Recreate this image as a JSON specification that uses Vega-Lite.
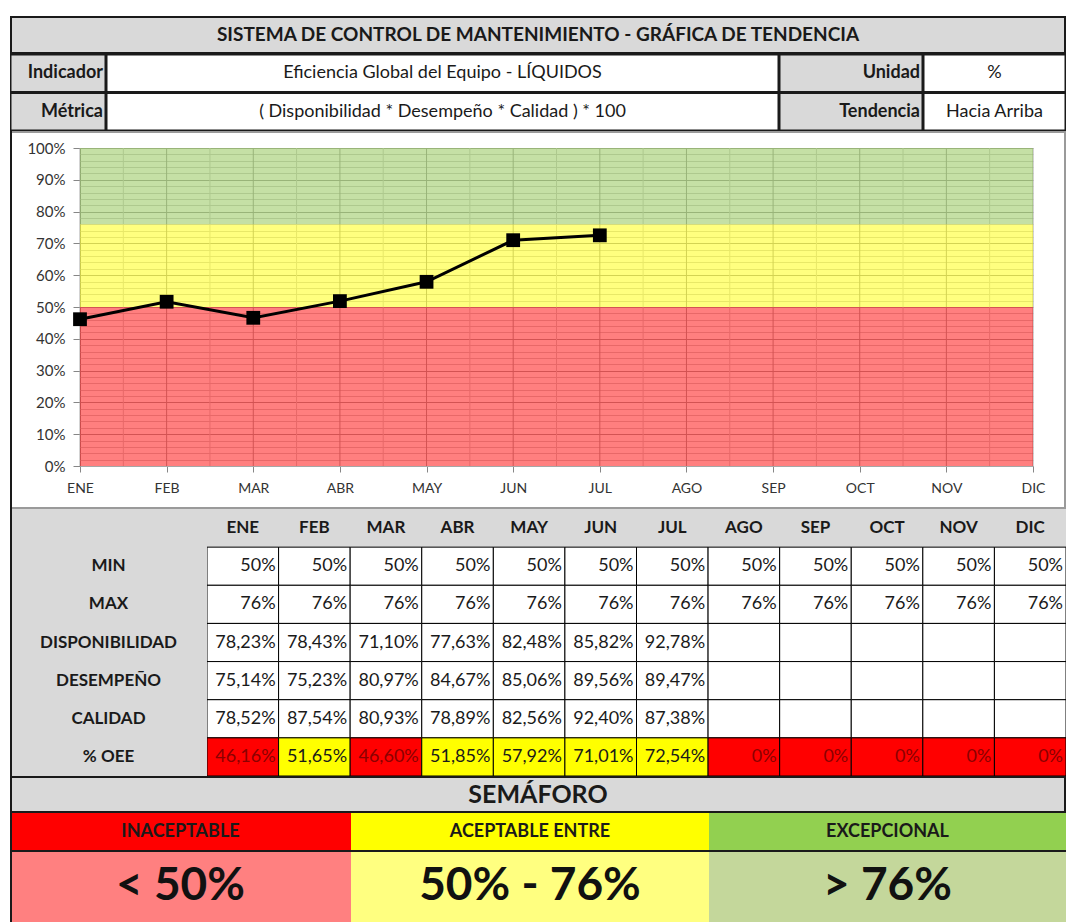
{
  "$schema": "https://vega.github.io/schema/vega-lite/v6.json",
  "padding": {"left": 10, "top": 16, "right": 0, "bottom": 0},
  "background": "white",
  "spacing": 0,
  "config": {
    "view": {"stroke": null},
    "font": "Lato",
    "locale": {"number": {"decimal": ",", "thousands": ".", "grouping": [3], "currency": ["", " €"]}}
  },
  "datasets": {
    "meses": [
      {"mes": "ENE", "min": 0.5, "max": 0.76, "disponibilidad": 0.7823, "desempeno": 0.7514, "calidad": 0.7852, "oee": 0.4616},
      {"mes": "FEB", "min": 0.5, "max": 0.76, "disponibilidad": 0.7843, "desempeno": 0.7523, "calidad": 0.8754, "oee": 0.5165},
      {"mes": "MAR", "min": 0.5, "max": 0.76, "disponibilidad": 0.7110, "desempeno": 0.8097, "calidad": 0.8093, "oee": 0.4660},
      {"mes": "ABR", "min": 0.5, "max": 0.76, "disponibilidad": 0.7763, "desempeno": 0.8467, "calidad": 0.7889, "oee": 0.5185},
      {"mes": "MAY", "min": 0.5, "max": 0.76, "disponibilidad": 0.8248, "desempeno": 0.8506, "calidad": 0.8256, "oee": 0.5792},
      {"mes": "JUN", "min": 0.5, "max": 0.76, "disponibilidad": 0.8582, "desempeno": 0.8956, "calidad": 0.9240, "oee": 0.7101},
      {"mes": "JUL", "min": 0.5, "max": 0.76, "disponibilidad": 0.9278, "desempeno": 0.8947, "calidad": 0.8738, "oee": 0.7254},
      {"mes": "AGO", "min": 0.5, "max": 0.76, "disponibilidad": null, "desempeno": null, "calidad": null, "oee": 0},
      {"mes": "SEP", "min": 0.5, "max": 0.76, "disponibilidad": null, "desempeno": null, "calidad": null, "oee": 0},
      {"mes": "OCT", "min": 0.5, "max": 0.76, "disponibilidad": null, "desempeno": null, "calidad": null, "oee": 0},
      {"mes": "NOV", "min": 0.5, "max": 0.76, "disponibilidad": null, "desempeno": null, "calidad": null, "oee": 0},
      {"mes": "DIC", "min": 0.5, "max": 0.76, "disponibilidad": null, "desempeno": null, "calidad": null, "oee": 0}
    ],
    "filas": [
      {"clave": "min", "fila": "MIN"},
      {"clave": "max", "fila": "MAX"},
      {"clave": "disponibilidad", "fila": "DISPONIBILIDAD"},
      {"clave": "desempeno", "fila": "DESEMPEÑO"},
      {"clave": "calidad", "fila": "CALIDAD"},
      {"clave": "oee", "fila": "% OEE"}
    ],
    "encabezado": [
      {"fila": 1, "etiqueta": "Indicador", "valor": "Eficiencia Global del Equipo - LÍQUIDOS", "etiqueta2": "Unidad", "valor2": "%"},
      {"fila": 2, "etiqueta": "Métrica", "valor": "( Disponibilidad * Desempeño * Calidad ) * 100", "etiqueta2": "Tendencia", "valor2": "Hacia Arriba"}
    ],
    "titulos": [
      {"seccion": "titulo", "texto": "SISTEMA DE CONTROL DE MANTENIMIENTO - GRÁFICA DE TENDENCIA"},
      {"seccion": "semaforo", "texto": "SEMÁFORO"}
    ],
    "semaforo": [
      {"zona": "INACEPTABLE", "rango": "< 50%"},
      {"zona": "ACEPTABLE ENTRE", "rango": "50% - 76%"},
      {"zona": "EXCEPCIONAL", "rango": "> 76%"}
    ]
  },
  "vconcat": [
    {
      "width": 1056, "height": 38,
      "data": {"name": "titulos"},
      "transform": [{"filter": "datum.seccion === 'titulo'"}],
      "layer": [
        {"mark": {"type": "rect", "fill": "#d9d9d9", "stroke": "#1a1a1a", "strokeWidth": 4, "clip": true}, "encoding": {}},
        {"mark": {"type": "text", "fontWeight": "bold", "fontSize": 19, "color": "#1a1a1a"}, "encoding": {"text": {"field": "texto"}}}
      ]
    },
    {
      "hconcat": [
        {
          "width": 96, "height": 77,
          "data": {"name": "encabezado"},
          "encoding": {"y": {"field": "fila", "type": "ordinal", "axis": null, "scale": {"type": "band", "paddingInner": 0, "paddingOuter": 0}}},
          "layer": [
            {"mark": {"type": "rect", "fill": "#d9d9d9", "stroke": "#1a1a1a", "strokeWidth": 3, "clip": true}},
            {"mark": {"type": "text", "align": "right", "dx": -3, "fontWeight": "bold", "fontSize": 18, "color": "#1a1a1a"}, "encoding": {"x": {"value": "width"}, "text": {"field": "etiqueta"}}}
          ]
        },
        {
          "width": 673, "height": 77,
          "data": {"name": "encabezado"},
          "encoding": {"y": {"field": "fila", "type": "ordinal", "axis": null, "scale": {"type": "band", "paddingInner": 0, "paddingOuter": 0}}},
          "layer": [
            {"mark": {"type": "rect", "fill": "white", "stroke": "#1a1a1a", "strokeWidth": 3, "clip": true}},
            {"mark": {"type": "text", "fontSize": 18, "color": "#1a1a1a"}, "encoding": {"text": {"field": "valor"}}}
          ]
        },
        {
          "width": 144, "height": 77,
          "data": {"name": "encabezado"},
          "encoding": {"y": {"field": "fila", "type": "ordinal", "axis": null, "scale": {"type": "band", "paddingInner": 0, "paddingOuter": 0}}},
          "layer": [
            {"mark": {"type": "rect", "fill": "#d9d9d9", "stroke": "#1a1a1a", "strokeWidth": 3, "clip": true}},
            {"mark": {"type": "text", "align": "right", "dx": -3, "fontWeight": "bold", "fontSize": 18, "color": "#1a1a1a"}, "encoding": {"x": {"value": "width"}, "text": {"field": "etiqueta2"}}}
          ]
        },
        {
          "width": 143, "height": 77,
          "data": {"name": "encabezado"},
          "encoding": {"y": {"field": "fila", "type": "ordinal", "axis": null, "scale": {"type": "band", "paddingInner": 0, "paddingOuter": 0}}},
          "layer": [
            {"mark": {"type": "rect", "fill": "white", "stroke": "#1a1a1a", "strokeWidth": 3, "clip": true}},
            {"mark": {"type": "text", "fontSize": 18, "color": "#1a1a1a"}, "encoding": {"text": {"field": "valor2"}}}
          ]
        }
      ],
      "spacing": 0,
      "bounds": "flush"
    },
    {
      "width": 1056, "height": 378,
      "data": {"name": "meses"},
      "view": {"fill": "white"},
      "resolve": {"axis": {"y": "independent"}},
      "encoding": {
        "x": {"field": "mes", "type": "ordinal", "sort": null, "title": null,
          "scale": {"type": "point", "range": [70, 1023], "padding": 0},
          "axis": {"offset": -43, "labelAngle": 0, "domainColor": "#868686", "tickColor": "#868686", "tickSize": 6, "labelFontSize": 14, "labelColor": "#333333", "labelPadding": 9, "grid": false, "labelOverlap": false, "labelFlush": false, "title": null}}
      },
      "layer": [
        {
          "transform": [{"aggregate": [{"op": "count", "as": "n"}]}],
          "mark": {"type": "rect", "filled": false, "stroke": "#9a9a9a", "strokeWidth": 4, "clip": true},
          "encoding": {"x": {"value": 0}, "x2": {"value": "width"}}
        },
        {
          "transform": [{"aggregate": [{"op": "count", "as": "n"}]}],
          "mark": {"type": "rect", "filled": false, "stroke": "#1a1a1a", "strokeWidth": 4, "strokeDash": [0, 2490, 378, 0], "clip": true},
          "encoding": {"x": {"value": 0}, "x2": {"value": "width"}}
        },
        {
          "mark": {"type": "rule", "color": "#a6a6a6", "strokeWidth": 1},
          "encoding": {
            "y": {"datum": 0, "type": "quantitative", "title": null,
              "scale": {"domain": [0, 1], "range": [335, 17], "nice": false, "zero": false},
              "axis": {"offset": -70, "title": null, "values": [0, 0.1, 0.2, 0.3, 0.4, 0.5, 0.6, 0.7, 0.8, 0.9, 1], "format": ".0%", "grid": false, "tickSize": 7, "tickColor": "#868686", "domainColor": "#868686", "labelPadding": 8, "labelFontSize": 15, "labelColor": "#333333", "labelOverlap": false, "labelFlush": false}},
            "y2": {"datum": 1}
          }
        },
        {
          "mark": {"type": "rule", "xOffset": 43.3, "color": "#d0d0d0", "strokeWidth": 1},
          "encoding": {
            "y": {"datum": 0, "type": "quantitative", "title": null,
              "axis": {"orient": "right", "offset": -33, "title": null, "labels": false, "domain": false, "grid": false,
                "values": [0,0.02,0.04,0.06,0.08,0.1,0.12,0.14,0.16,0.18,0.2,0.22,0.24,0.26,0.28,0.3,0.32,0.34,0.36,0.38,0.4,0.42,0.44,0.46,0.48,0.5,0.52,0.54,0.56,0.58,0.6,0.62,0.64,0.66,0.68,0.7,0.72,0.74,0.76,0.78,0.8,0.82,0.84,0.86,0.88,0.9,0.92,0.94,0.96,0.98,1],
                "tickSize": -953,
                "tickColor": {"condition": {"test": "round(datum.value*50) % 5 === 0", "value": "#a6a6a6"}, "value": "#d0d0d0"}}},
            "y2": {"datum": 1}
          }
        },
        {
          "mark": {"type": "area", "color": "#ff0000", "opacity": 0.5},
          "encoding": {"y": {"field": "min", "type": "quantitative", "title": null, "axis": null}, "y2": {"datum": 0}}
        },
        {
          "mark": {"type": "area", "color": "#ffff00", "opacity": 0.5},
          "encoding": {"y": {"field": "max", "type": "quantitative", "title": null, "axis": null}, "y2": {"field": "min"}}
        },
        {
          "mark": {"type": "area", "color": "#8bc14b", "opacity": 0.5},
          "encoding": {"y": {"field": "max", "type": "quantitative", "title": null, "axis": null}, "y2": {"datum": 1}}
        },
        {
          "transform": [{"filter": "datum.disponibilidad != null"}],
          "mark": {"type": "line", "color": "black", "strokeWidth": 3},
          "encoding": {"y": {"field": "oee", "type": "quantitative", "title": null, "axis": null}}
        },
        {
          "transform": [{"filter": "datum.disponibilidad != null"}],
          "mark": {"type": "point", "shape": "square", "filled": true, "color": "black", "size": 190, "opacity": 1},
          "encoding": {"y": {"field": "oee", "type": "quantitative", "title": null, "axis": null}}
        }
      ]
    },
    {
      "hconcat": [
        {
          "width": 197, "height": 267,
          "data": {"name": "filas"},
          "view": {"fill": "#d9d9d9"},
          "layer": [
            {
              "transform": [{"aggregate": [{"op": "count", "as": "n"}]}],
              "mark": {"type": "rect", "filled": false, "stroke": "#1a1a1a", "strokeWidth": 4, "strokeDash": [0, 661, 267, 0], "clip": true},
              "encoding": {}
            },
            {
              "mark": {"type": "text", "fontWeight": "bold", "fontSize": 17, "color": "#1a1a1a"},
              "encoding": {
                "y": {"field": "clave", "type": "nominal", "axis": null, "scale": {"type": "band", "domain": ["mes", "min", "max", "disponibilidad", "desempeno", "calidad", "oee"], "paddingInner": 0, "paddingOuter": 0}},
                "text": {"field": "fila"}
              }
            }
          ]
        },
        {
          "width": 859, "height": 267,
          "data": {"name": "meses"},
          "view": {"fill": "#d9d9d9"},
          "encoding": {
            "x": {"field": "mes", "type": "nominal", "sort": null, "axis": null, "title": null, "scale": {"type": "band", "paddingInner": 0, "paddingOuter": 0}}
          },
          "layer": [
            {
              "mark": {"type": "text", "fontWeight": "bold", "fontSize": 17, "color": "#1a1a1a"},
              "encoding": {
                "y": {"datum": "mes", "type": "nominal", "axis": null, "scale": {"type": "band", "domain": ["mes", "min", "max", "disponibilidad", "desempeno", "calidad", "oee"], "paddingInner": 0, "paddingOuter": 0}},
                "text": {"field": "mes"}
              }
            },
            {
              "transform": [{"fold": ["min", "max", "disponibilidad", "desempeno", "calidad", "oee"], "as": ["clave", "valor"]}, {"filter": "datum.clave !== 'oee'"}],
              "mark": {"type": "rect", "fill": "white", "stroke": "black", "strokeWidth": 1, "clip": true},
              "encoding": {"y": {"field": "clave", "type": "nominal", "title": null}}
            },
            {
              "transform": [{"fold": ["min", "max", "disponibilidad", "desempeno", "calidad", "oee"], "as": ["clave", "valor"]}, {"filter": "datum.clave === 'oee'"}],
              "mark": {"type": "rect", "stroke": "black", "strokeWidth": 1, "clip": true},
              "encoding": {
                "y": {"field": "clave", "type": "nominal", "title": null},
                "fill": {"field": "valor", "type": "quantitative", "legend": null, "scale": {"type": "threshold", "domain": [0.5, 0.76], "range": ["#ff0000", "#ffff00", "#92d050"]}}
              }
            },
            {
              "transform": [{"fold": ["min", "max", "disponibilidad", "desempeno", "calidad", "oee"], "as": ["clave", "valor"]}, {"filter": "datum.clave === 'min' || datum.clave === 'max' || (datum.clave === 'oee' && datum.valor === 0)"}],
              "mark": {"type": "text", "align": "right", "dx": -3, "fontSize": 18},
              "encoding": {
                "x": {"field": "mes", "type": "nominal", "sort": null, "bandPosition": 1},
                "y": {"field": "clave", "type": "nominal", "title": null},
                "text": {"field": "valor", "type": "quantitative", "format": ".0%"},
                "color": {"condition": {"test": "datum.clave === 'oee' && datum.valor < 0.5", "value": "#8b0000"}, "value": "#1a1a1a"}
              }
            },
            {
              "transform": [{"fold": ["min", "max", "disponibilidad", "desempeno", "calidad", "oee"], "as": ["clave", "valor"]}, {"filter": "datum.valor != null && datum.clave !== 'min' && datum.clave !== 'max' && datum.valor !== 0"}],
              "mark": {"type": "text", "align": "right", "dx": -3, "fontSize": 18},
              "encoding": {
                "x": {"field": "mes", "type": "nominal", "sort": null, "bandPosition": 1},
                "y": {"field": "clave", "type": "nominal", "title": null},
                "text": {"field": "valor", "type": "quantitative", "format": ".2%"},
                "color": {"condition": {"test": "datum.clave === 'oee' && datum.valor < 0.5", "value": "#8b0000"}, "value": "#1a1a1a"}
              }
            }
          ]
        }
      ],
      "spacing": 0,
      "bounds": "flush"
    },
    {
      "width": 1056, "height": 37,
      "data": {"name": "titulos"},
      "transform": [{"filter": "datum.seccion === 'semaforo'"}],
      "layer": [
        {"mark": {"type": "rect", "fill": "#d9d9d9", "stroke": "#1a1a1a", "strokeWidth": 4, "clip": true}, "encoding": {}},
        {"mark": {"type": "text", "fontWeight": "bold", "fontSize": 25, "color": "#1a1a1a"}, "encoding": {"text": {"field": "texto"}}}
      ]
    },
    {
      "hconcat": [
        {
          "width": 341, "height": 37, "data": {"name": "semaforo"},
          "transform": [{"filter": "datum.zona === 'INACEPTABLE'"}],
          "layer": [
            {"mark": {"type": "rect", "fill": "#ff0000", "stroke": "#1a1a1a", "strokeWidth": 4, "strokeDash": [0, 719, 37, 0], "clip": true}, "encoding": {}},
            {"mark": {"type": "text", "fontWeight": "bold", "fontSize": 18, "color": "#1a1a1a"}, "encoding": {"text": {"field": "zona"}}}
          ]
        },
        {
          "width": 358, "height": 37, "data": {"name": "semaforo"},
          "transform": [{"filter": "datum.zona === 'ACEPTABLE ENTRE'"}],
          "view": {"fill": "#ffff00"},
          "mark": {"type": "text", "fontWeight": "bold", "fontSize": 18, "color": "#1a1a1a"},
          "encoding": {"text": {"field": "zona"}}
        },
        {
          "width": 357, "height": 37, "data": {"name": "semaforo"},
          "transform": [{"filter": "datum.zona === 'EXCEPCIONAL'"}],
          "view": {"fill": "#92d050"},
          "mark": {"type": "text", "fontWeight": "bold", "fontSize": 18, "color": "#1a1a1a"},
          "encoding": {"text": {"field": "zona"}}
        }
      ],
      "spacing": 0,
      "bounds": "flush"
    },
    {
      "hconcat": [
        {
          "width": 341, "height": 72, "data": {"name": "semaforo"},
          "transform": [{"filter": "datum.zona === 'INACEPTABLE'"}],
          "layer": [
            {"mark": {"type": "rect", "fill": "#ff8080", "stroke": "#1a1a1a", "strokeWidth": 4, "strokeDash": [341, 413, 72, 0], "clip": true}, "encoding": {}},
            {"mark": {"type": "text", "fontWeight": "bold", "fontSize": 46, "color": "#111111"}, "encoding": {"text": {"field": "rango"}}}
          ]
        },
        {
          "width": 358, "height": 72, "data": {"name": "semaforo"},
          "transform": [{"filter": "datum.zona === 'ACEPTABLE ENTRE'"}],
          "layer": [
            {"mark": {"type": "rect", "fill": "#ffff80", "stroke": "#1a1a1a", "strokeWidth": 4, "strokeDash": [358, 3000], "clip": true}, "encoding": {}},
            {"mark": {"type": "text", "fontWeight": "bold", "fontSize": 46, "color": "#111111"}, "encoding": {"text": {"field": "rango"}}}
          ]
        },
        {
          "width": 357, "height": 72, "data": {"name": "semaforo"},
          "transform": [{"filter": "datum.zona === 'EXCEPCIONAL'"}],
          "layer": [
            {"mark": {"type": "rect", "fill": "#c4d79b", "stroke": "#1a1a1a", "strokeWidth": 4, "strokeDash": [357, 3000], "clip": true}, "encoding": {}},
            {"mark": {"type": "text", "fontWeight": "bold", "fontSize": 46, "color": "#111111"}, "encoding": {"text": {"field": "rango"}}}
          ]
        }
      ],
      "spacing": 0,
      "bounds": "flush"
    }
  ]
}
